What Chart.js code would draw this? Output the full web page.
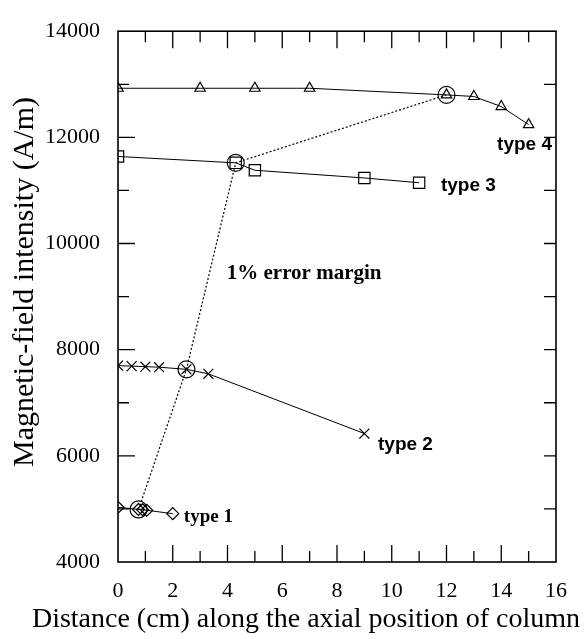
<!DOCTYPE html>
<html>
<head>
<meta charset="utf-8">
<script src="https://cdn.jsdelivr.net/npm/chart.js@4"></script>
<style>
  html, body { margin: 0; padding: 0; background: #fff; }
  #wrap { width: 584px; height: 639px; }
</style>
</head>
<body>
<div id="wrap"><canvas id="magChart"></canvas></div>
<script>
"use strict";

// distance along column (cm) and field intensity (A/m) for each column type
const type1X = [0, 0.75, 0.9, 1.05, 2.0];
const type1Y = [5030, 4990, 4985, 4975, 4910];
const type2X = [0, 0.5, 1.0, 1.5, 2.5, 3.3, 9.0];
const type2Y = [7700, 7690, 7680, 7670, 7630, 7545, 6420];
const type3X = [0, 4.3, 5.0, 9.0, 11.0];
const type3Y = [11640, 11520, 11380, 11235, 11145];
const type4X = [0, 3, 5, 7, 12, 13, 14, 15];
const type4Y = [12925, 12925, 12925, 12925, 12800, 12770, 12580, 12240];
// circled points joined by the dotted 1% error margin line
const marginX = [0.75, 2.5, 4.3, 12];
const marginY = [4990, 7630, 11520, 12800];

const xTicks = [0, 2, 4, 6, 8, 10, 12, 14, 16];
const yTicks = [4000, 6000, 8000, 10000, 12000, 14000];

// text notes, anchored in data units
const noteText = ["type 1", "type 2", "type 3", "type 4", "1% error margin"];
const noteX = [3.3, 10.5, 12.8, 14.85, 6.8];
const noteY = [4840, 6200, 11090, 11860, 9440];

const xTitle = "Distance (cm) along the axial position of column";
const yTitle = "Magnetic-field intensity (A/m)";

const pts = (xs, ys) => xs.map((x, i) => ({ x: x, y: ys[i] }));

const serif = "'Liberation Serif', 'Times New Roman', serif";
const sans = "'Liberation Sans', Arial, sans-serif";

// frame, inward ticks, axis titles and the notes
// (titles drawn here because the x title is wider than the plot area)
const framePlugin = {
  id: "framePlugin",
  afterDraw(chart) {
    const ctx = chart.ctx;
    const a = chart.chartArea;
    const xs = chart.scales.x;
    const ys = chart.scales.y;
    ctx.save();
    ctx.strokeStyle = "#000";
    ctx.lineWidth = 1.6;
    ctx.strokeRect(a.left, a.top, a.right - a.left, a.bottom - a.top);
    ctx.lineWidth = 1.3;
    ctx.beginPath();
    for (let v = 1; v < 16; v++) {
      const px = xs.getPixelForValue(v);
      const len = v % 2 === 0 ? 17 : 11;
      ctx.moveTo(px, a.bottom);
      ctx.lineTo(px, a.bottom - len);
      ctx.moveTo(px, a.top);
      ctx.lineTo(px, a.top + len);
    }
    for (let v = 5000; v < 14000; v += 1000) {
      const py = ys.getPixelForValue(v);
      const len = v % 2000 === 0 ? 17 : 11;
      ctx.moveTo(a.left, py);
      ctx.lineTo(a.left + len, py);
      ctx.moveTo(a.right, py);
      ctx.lineTo(a.right - 12, py);
    }
    ctx.stroke();

    ctx.fillStyle = "#000";
    ctx.textAlign = "center";
    ctx.textBaseline = "middle";
    noteText.forEach((t, i) => {
      if (i === 0) ctx.font = "bold 19px " + serif;
      else if (i === 4) ctx.font = "bold 21px " + serif;
      else ctx.font = "bold 19px " + sans;
      ctx.fillText(t, xs.getPixelForValue(noteX[i]), ys.getPixelForValue(noteY[i]));
    });

    ctx.font = "28px " + serif;
    ctx.fillText(xTitle, 306, 620);
    ctx.translate(25, 282);
    ctx.rotate(-Math.PI / 2);
    ctx.font = "30px " + serif;
    ctx.fillText(yTitle, 0, 0);
    ctx.restore();
  },
};

const lineSet = (label, data, style, radius) => ({
  label: label,
  data: data,
  showLine: true,
  borderColor: "#000",
  borderWidth: 1,
  backgroundColor: "rgba(0,0,0,0)",
  pointStyle: style,
  pointRadius: radius,
  pointBorderWidth: 1.2,
  pointBorderColor: "#000",
  pointBackgroundColor: "rgba(255,255,255,0)",
});

const data = {
  datasets: [
    Object.assign(lineSet("margin", pts(marginX, marginY), "circle", 8.5), {
      borderDash: [2, 2],
      borderWidth: 1.2,
    }),
    lineSet("type 1", pts(type1X, type1Y), "rectRot", 6),
    lineSet("type 2", pts(type2X, type2Y), "crossRot", 7),
    lineSet("type 3", pts(type3X, type3Y), "rect", 8),
    lineSet("type 4", pts(type4X, type4Y), "triangle", 6),
  ],
};

const config = {
  type: "scatter",
  data: data,
  options: {
    responsive: true,
    maintainAspectRatio: false,
    animation: false,
    layout: {
      padding: { top: 16, right: 28, left: 0, bottom: 0 },
    },
    plugins: {
      legend: { display: false },
      tooltip: { enabled: false },
    },
    scales: {
      x: {
        type: "linear",
        min: 0,
        max: 16,
        afterFit: (s) => { s.height = 77; },
        afterBuildTicks: (s) => { s.ticks = xTicks.map((v) => ({ value: v })); },
        grid: { display: false, drawTicks: false },
        border: { display: false },
        ticks: {
          color: "#000",
          padding: 16,
          font: { family: serif, size: 22 },
          callback: (v) => String(v),
        },
      },
      y: {
        type: "linear",
        min: 4000,
        max: 14000,
        afterFit: (s) => { s.width = 118; },
        afterBuildTicks: (s) => { s.ticks = yTicks.map((v) => ({ value: v })); },
        grid: { display: false, drawTicks: false },
        border: { display: false },
        ticks: {
          color: "#000",
          padding: 18,
          font: { family: serif, size: 22 },
          callback: (v) => String(v),
        },
      },
    },
  },
  plugins: [framePlugin],
};

const magChart = new Chart(document.getElementById("magChart"), config);
</script>
</body>
</html>
